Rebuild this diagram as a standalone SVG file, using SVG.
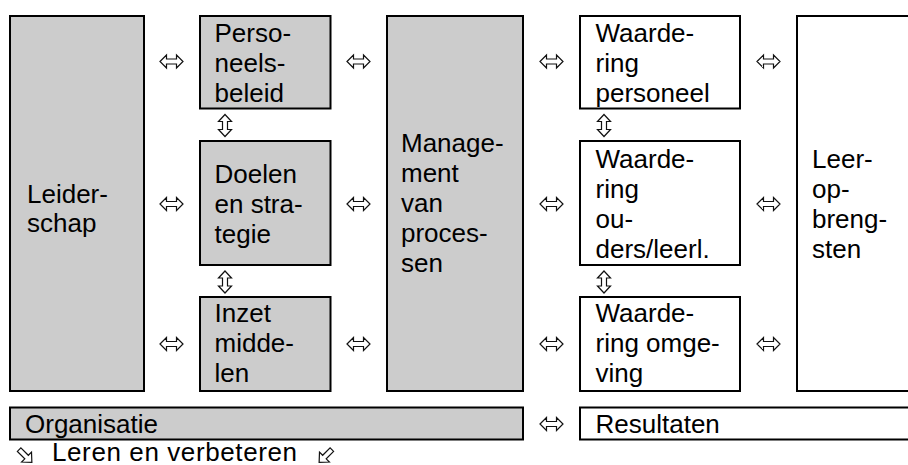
<svg xmlns="http://www.w3.org/2000/svg" width="908" height="465" viewBox="0 0 908 465">
  <style>
    .box { stroke: #000; stroke-width: 2; }
    .grey { fill: #cccccc; }
    .white { fill: #ffffff; }
    text { font-family: "Liberation Sans", Arial, sans-serif; font-size: 26px; fill: #000; }
    .arrow { fill: #ffffff; stroke: #111; stroke-width: 1.2; stroke-linejoin: miter; }
  </style>
  <defs>
    <!-- hollow two-headed arrows -->
    <path id="harrow" class="arrow" d="M -11.5 0 L -5 -6.5 L -5 -2.5 L 5 -2.5 L 5 -6.5 L 11.5 0 L 5 6.5 L 5 2.5 L -5 2.5 L -5 6.5 Z"/>
    <path id="varrow" class="arrow" d="M 0 -11 L 6.5 -4 L 2.5 -4 L 2.5 4 L 6.5 4 L 0 11 L -6.5 4 L -2.5 4 L -2.5 -4 L -6.5 -4 Z"/>
    <!-- hollow single-headed arrow pointing right -->
    <path id="sarrow" class="arrow" d="M -9 -2.5 L 1.5 -2.5 L 1.5 -7 L 9 0 L 1.5 7 L 1.5 2.5 L -9 2.5 Z"/>
  </defs>

  <!-- Organisation side -->
  <g id="leiderschap">
    <rect class="box grey" x="10" y="16" width="134" height="375"/>
    <text x="27" y="202.5">Leider-</text>
    <text x="27" y="232">schap</text>
  </g>
  <g id="personeelsbeleid">
    <rect class="box grey" x="200" y="16" width="130.5" height="92.5"/>
    <text x="214.5" y="41.5">Perso-</text>
    <text x="214.5" y="71.5">neels-</text>
    <text x="214.5" y="101.5">beleid</text>
  </g>
  <g id="doelen">
    <rect class="box grey" x="200" y="141" width="130.5" height="124"/>
    <text x="214.5" y="183">Doelen</text>
    <text x="214.5" y="213">en stra-</text>
    <text x="214.5" y="243">tegie</text>
  </g>
  <g id="inzet">
    <rect class="box grey" x="200" y="297" width="130.5" height="94"/>
    <text x="214.5" y="322">Inzet</text>
    <text x="214.5" y="352">midde-</text>
    <text x="214.5" y="382">len</text>
  </g>
  <g id="management">
    <rect class="box grey" x="387" y="16" width="136" height="375"/>
    <text x="401" y="152">Manage-</text>
    <text x="401" y="182">ment</text>
    <text x="401" y="212">van</text>
    <text x="401" y="242">proces-</text>
    <text x="401" y="272">sen</text>
  </g>

  <!-- Results side -->
  <g id="waardering-personeel">
    <rect class="box white" x="580" y="16" width="160" height="92.5"/>
    <text x="595.5" y="41.5">Waarde-</text>
    <text x="595.5" y="71.5">ring</text>
    <text x="595.5" y="101.5">personeel</text>
  </g>
  <g id="waardering-ouders">
    <rect class="box white" x="580" y="141" width="160" height="124"/>
    <text x="595.5" y="168">Waarde-</text>
    <text x="595.5" y="198">ring</text>
    <text x="595.5" y="228">ou-</text>
    <text x="595.5" y="258">ders/leerl.</text>
  </g>
  <g id="waardering-omgeving">
    <rect class="box white" x="580" y="297" width="160" height="94"/>
    <text x="595.5" y="322">Waarde-</text>
    <text x="595.5" y="352">ring omge-</text>
    <text x="595.5" y="382">ving</text>
  </g>
  <g id="leeropbrengsten">
    <rect class="box white" x="797" y="16" width="130" height="375"/>
    <text x="812" y="168">Leer-</text>
    <text x="812" y="198">op-</text>
    <text x="812" y="228">breng-</text>
    <text x="812" y="258">sten</text>
  </g>

  <!-- Bottom bars -->
  <g id="organisatie">
    <rect class="box grey" x="10" y="407.5" width="513" height="32"/>
    <text x="25" y="432.5">Organisatie</text>
  </g>
  <g id="resultaten">
    <rect class="box white" x="580" y="407.5" width="350" height="32"/>
    <text x="595.5" y="432.5">Resultaten</text>
  </g>
  <g id="leren">
    <text x="52" y="461" letter-spacing="0.6">Leren en verbeteren</text>
  </g>

  <!-- Connectors -->
  <g id="connectors">
    <use href="#harrow" x="171.5" y="61.5"/>
    <use href="#harrow" x="358.5" y="61.5"/>
    <use href="#harrow" x="551.5" y="61.5"/>
    <use href="#harrow" x="768.5" y="61.5"/>

    <use href="#harrow" x="171.5" y="204"/>
    <use href="#harrow" x="358.5" y="204"/>
    <use href="#harrow" x="551.5" y="204"/>
    <use href="#harrow" x="768.5" y="204"/>

    <use href="#harrow" x="171.5" y="344"/>
    <use href="#harrow" x="358.5" y="344"/>
    <use href="#harrow" x="551.5" y="344"/>
    <use href="#harrow" x="768.5" y="344"/>

    <use href="#harrow" x="551.5" y="424"/>

    <use href="#varrow" x="225" y="125.5"/>
    <use href="#varrow" x="225" y="282"/>
    <use href="#varrow" x="604" y="125.5"/>
    <use href="#varrow" x="604" y="282"/>

    <use href="#sarrow" transform="translate(25.5 456) rotate(45)"/>
    <use href="#sarrow" transform="translate(325.5 456) rotate(135)"/>
  </g>
</svg>
